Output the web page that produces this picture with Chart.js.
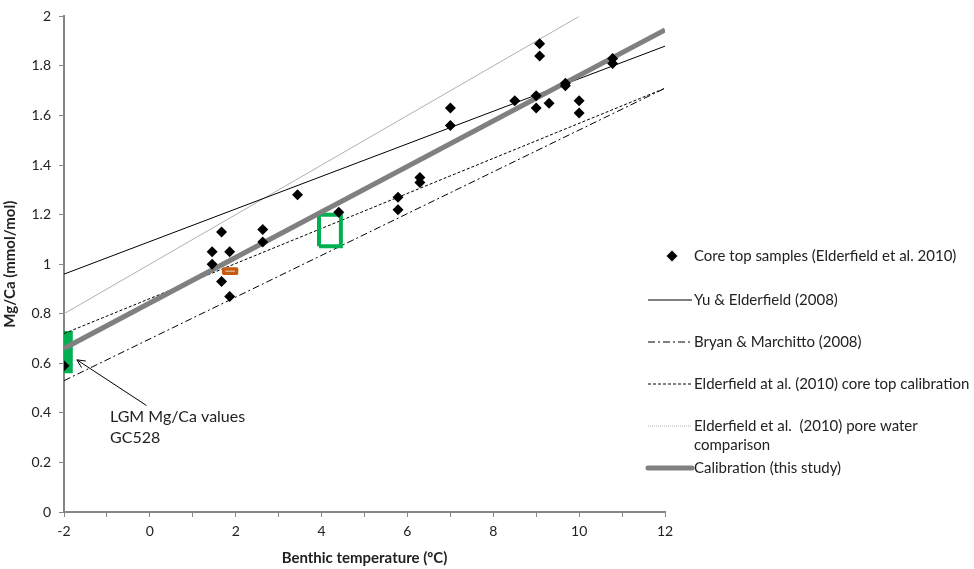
<!DOCTYPE html>
<html>
<head>
<meta charset="utf-8">
<script src="https://cdn.jsdelivr.net/npm/chart.js@4.4.1/dist/chart.umd.min.js"></script>
<style>
  html, body { margin: 0; padding: 0; background: #fff; }
  #wrap { width: 974px; height: 569px; position: relative; }
</style>
</head>
<body>
<div id="wrap"><canvas id="mgcaChart"></canvas></div>
<script>
// core top samples (Elderfield et al. 2010)
const coreTemp = [-2.0, 1.45, 1.45, 1.67, 1.86, 1.67, 1.86, 2.63, 2.63, 3.44, 4.4, 5.78, 5.78, 6.29, 6.29, 7.0, 7.0, 8.5, 9.0, 9.0, 9.08, 9.08, 9.3, 9.68, 9.68, 10.0, 10.0, 10.78, 10.78];
const coreMgCa = [0.59, 1.05, 1.0, 1.13, 1.05, 0.93, 0.87, 1.14, 1.09, 1.28, 1.21, 1.27, 1.22, 1.35, 1.33, 1.63, 1.56, 1.66, 1.68, 1.63, 1.89, 1.84, 1.65, 1.73, 1.72, 1.66, 1.61, 1.83, 1.81];

// calibration lines (end points)
const yuTemp = [-2, 12];
const yuMgCa = [0.96, 1.88];
const bryanTemp = [-2, 12];
const bryanMgCa = [0.53, 1.71];
const coreCalTemp = [-2, 12];
const coreCalMgCa = [0.72, 1.71];
const poreTemp = [-2, 10];
const poreMgCa = [0.80, 2.0];
const thisStudyTemp = [-2, 12];
const thisStudyMgCa = [0.66, 1.945];

// LGM ranges (boxes)
const lgmTemp = [-1.9, -1.9];
const lgmMgCa = [0.56, 0.73];
const greenBoxTemp = [3.94, 4.45, 4.45, 3.94, 3.94];
const greenBoxMgCa = [1.072, 1.072, 1.20, 1.20, 1.072];
const orangeBoxTemp = [1.72, 2.02, 2.02, 1.72, 1.72];
const orangeBoxMgCa = [0.963, 0.963, 0.981, 0.981, 0.963];

const seriesNames = [
    "Core top samples (Elderfield et al. 2010)",
    "Yu & Elderfield (2008)",
    "Bryan & Marchitto (2008)",
    "Elderfield at al. (2010) core top calibration",
    "Elderfield et al.  (2010) pore water|comparison",
    "Calibration (this study)"
];
const annotationLines = ["LGM Mg/Ca values", "GC528"];

const FONT = "Lato, 'Open Sans', sans-serif";

function pts(xs, ys) {
    return xs.map((x, i) => ({ x: x, y: ys[i] }));
}

function lineSet(label, xs, ys, color, width, dash, order) {
    return {
        type: "line",
        label: label,
        data: pts(xs, ys),
        borderColor: color,
        backgroundColor: color,
        borderWidth: width,
        borderDash: dash,
        pointRadius: 0,
        fill: false,
        tension: 0,
        order: order
    };
}

// custom legend and annotation drawn with the chart's scales
const extrasPlugin = {
    id: "extras",
    afterDraw(chart) {
        const ctx = chart.ctx;
        const xs = chart.scales.x;
        const ys = chart.scales.y;
        ctx.save();

        // annotation arrow
        const x0 = xs.getPixelForValue(-0.08), y0 = ys.getPixelForValue(0.43);
        const x1 = xs.getPixelForValue(-1.70), y1 = ys.getPixelForValue(0.614);
        ctx.strokeStyle = "#000";
        ctx.lineWidth = 1;
        ctx.beginPath();
        ctx.moveTo(x0, y0);
        ctx.lineTo(x1, y1);
        const ang = Math.atan2(y0 - y1, x0 - x1);
        ctx.moveTo(x1 + 9 * Math.cos(ang - 0.45), y1 + 9 * Math.sin(ang - 0.45));
        ctx.lineTo(x1, y1);
        ctx.lineTo(x1 + 9 * Math.cos(ang + 0.45), y1 + 9 * Math.sin(ang + 0.45));
        ctx.stroke();

        ctx.fillStyle = "#222";
        ctx.font = "16px " + FONT;
        ctx.textAlign = "left";
        ctx.textBaseline = "middle";
        ctx.fillText(annotationLines[0], 110, 417);
        ctx.fillText(annotationLines[1], 110, 438);

        // legend
        const lx0 = 648, lx1 = 692, tx = 694;
        const rows = [256, 300, 342, 384, 426, 468];
        ctx.font = "15px " + FONT;
        // diamond
        ctx.fillStyle = "#000";
        ctx.beginPath();
        ctx.moveTo(672, rows[0] - 5.5);
        ctx.lineTo(677.5, rows[0]);
        ctx.lineTo(672, rows[0] + 5.5);
        ctx.lineTo(666.5, rows[0]);
        ctx.closePath();
        ctx.fill();
        const styles = [
            null,
            { c: "#000", w: 1, d: [] },
            { c: "#000", w: 1, d: [7, 3, 2, 3] },
            { c: "#000", w: 1, d: [3, 2] },
            { c: "#b0b0b0", w: 1, d: [1, 1] },
            { c: "#808080", w: 5, d: [] }
        ];
        for (let i = 1; i < styles.length; i++) {
            const s = styles[i];
            ctx.strokeStyle = s.c;
            ctx.lineWidth = s.w;
            ctx.setLineDash(s.d);
            ctx.lineCap = s.w > 2 ? "round" : "butt";
            ctx.beginPath();
            ctx.moveTo(lx0, rows[i]);
            ctx.lineTo(lx1, rows[i]);
            ctx.stroke();
        }
        ctx.setLineDash([]);
        ctx.fillStyle = "#222";
        seriesNames.forEach((name, i) => {
            const parts = name.split("|");
            parts.forEach((p, j) => {
                ctx.fillText(p, tx, rows[i] + j * 19);
            });
        });
        ctx.restore();
    }
};

new Chart(document.getElementById("mgcaChart"), {
    type: "scatter",
    data: {
        datasets: [
            {
                label: seriesNames[0],
                data: pts(coreTemp, coreMgCa),
                pointStyle: "rectRot",
                pointRadius: 5.5,
                pointHoverRadius: 5.5,
                backgroundColor: "#000",
                borderColor: "#000",
                borderWidth: 0,
                order: 0
            },
            lineSet(seriesNames[5], thisStudyTemp, thisStudyMgCa, "#808080", 5, [], 1),
            lineSet("green box", greenBoxTemp, greenBoxMgCa, "#00B050", 4, [], 2),
            Object.assign(lineSet("orange box", orangeBoxTemp, orangeBoxMgCa, "#C55A11", 3.5, [], 2), { borderJoinStyle: "round" }),
            lineSet(seriesNames[1], yuTemp, yuMgCa, "#000", 1, [], 3),
            lineSet(seriesNames[2], bryanTemp, bryanMgCa, "#000", 1, [7, 3, 2, 3], 3),
            lineSet(seriesNames[3], coreCalTemp, coreCalMgCa, "#000", 1, [3, 2], 3),
            lineSet(seriesNames[4], poreTemp, poreMgCa, "#b0b0b0", 1, [], 3),
            Object.assign(lineSet("LGM", lgmTemp, lgmMgCa, "#00B050", 9, [], 4), { borderCapStyle: "butt" })
        ]
    },
    options: {
        responsive: true,
        maintainAspectRatio: false,
        animation: false,
        layout: {
            padding: { top: 12, right: 309, left: 0, bottom: 0 }
        },
        plugins: {
            legend: { display: false },
            tooltip: { enabled: false }
        },
        scales: {
            x: {
                type: "linear",
                min: -2,
                max: 12,
                afterFit: (scale) => { scale.height = 57; },
                ticks: {
                    stepSize: 1,
                    autoSkip: false,
                    padding: 6,
                    color: "#222",
                    font: { family: FONT, size: 14 },
                    callback: (v) => (v % 2 === 0 ? v : "")
                },
                grid: {
                    drawOnChartArea: false,
                    tickLength: 5,
                    color: "#868686"
                },
                border: { color: "#868686", width: 2 },
                title: {
                    display: true,
                    text: "Benthic temperature (ºC)",
                    color: "#222",
                    font: { family: FONT, size: 15, weight: "bold" },
                    padding: { top: 0, bottom: 2 }
                }
            },
            y: {
                min: 0,
                max: 2,
                afterFit: (scale) => { scale.width = 64; },
                ticks: {
                    stepSize: 0.2,
                    padding: 8,
                    color: "#222",
                    font: { family: FONT, size: 14 },
                    callback: (v) => String(Number(v.toFixed(1)))
                },
                grid: {
                    drawOnChartArea: false,
                    tickLength: 5,
                    color: "#868686"
                },
                border: { color: "#868686", width: 2 },
                title: {
                    display: true,
                    text: "Mg/Ca (mmol/mol)",
                    color: "#222",
                    font: { family: FONT, size: 15, weight: "bold" },
                    padding: { top: 1, bottom: 0 }
                }
            }
        }
    },
    plugins: [extrasPlugin]
});
</script>
</body>
</html>
